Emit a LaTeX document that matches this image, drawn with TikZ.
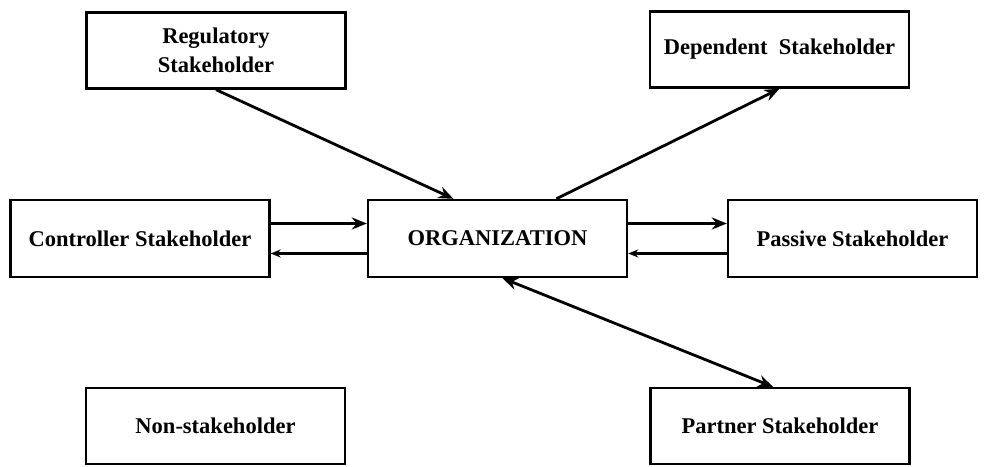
\documentclass[tikz,border=0pt]{standalone}
\usepackage{fontspec}
\setmainfont{Liberation Serif}[BoldFont={Liberation Serif Bold}]
\usetikzlibrary{arrows.meta}

\begin{document}
\begin{tikzpicture}[x=1pt, y=1pt,
  stakebox/.style={draw, line width=2.4pt, minimum width=259pt, minimum height=76pt, inner sep=0pt, align=center, font=\fontsize{22.5}{29}\selectfont\bfseries},
  link/.style={line width=2.8pt, -{Stealth[length=15pt, width=12pt]}},
  backlink/.style={line width=2.2pt, -{Stealth[length=10pt, width=8pt]}}]
\useasboundingbox (0, 0) rectangle (984, 466);
%Boxes
\node [stakebox] (reg) at (216, 415.5) {Regulatory\\Stakeholder};
\node [stakebox] (dep) at (779.5, 416.5) {Dependent\ \ Stakeholder};
\node [stakebox, minimum height=77pt] (ctrl) at (140, 227.5) {Controller Stakeholder};
\node [stakebox, minimum height=77pt] (org) at (497.5, 227.5) {ORGANIZATION};
\node [stakebox, minimum height=77pt, minimum width=249pt] (pas) at (852.5, 227.5) {Passive Stakeholder};
\node [stakebox] (non) at (215.5, 40) {Non-stakeholder};
\node [stakebox] (par) at (780, 40) {Partner Stakeholder};
%Arrows
\draw [link] (reg.south) -- (org.138);
\draw [link] (org.34) -- (dep.south);
\draw [link] ([yshift=15pt]ctrl.east) -- ([yshift=15pt]org.west);
\draw [backlink] ([yshift=-15pt]org.west) -- ([yshift=-15pt]ctrl.east);
\draw [link] ([yshift=15pt]org.east) -- ([yshift=15pt]pas.west);
\draw [backlink] ([yshift=-15pt]pas.west) -- ([yshift=-15pt]org.east);
\draw [link, {Stealth[length=15pt, width=12pt]}-{Stealth[length=15pt, width=12pt]}] ([xshift=5pt]org.south) -- ([xshift=-7pt]par.north);
\end{tikzpicture}
\end{document}
